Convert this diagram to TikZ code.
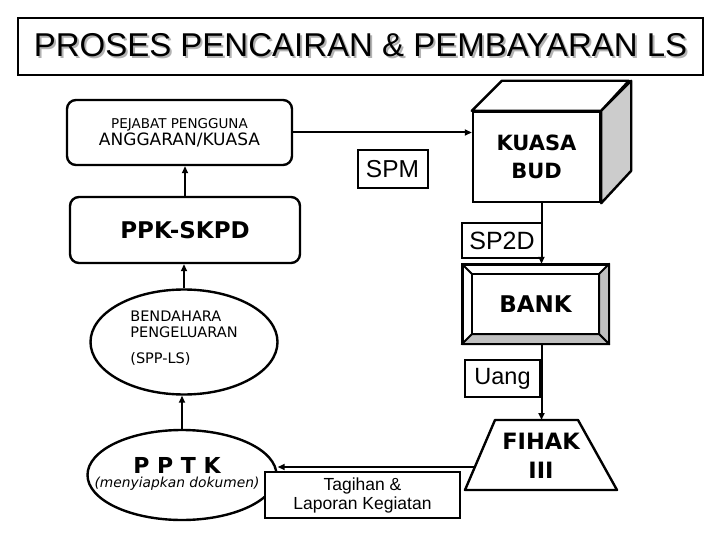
\documentclass[tikz,border=0pt]{standalone}
\usepackage{fontspec}
\setmainfont{Liberation Sans}
\newfontfamily\verdana{DejaVu Sans}
\usetikzlibrary{positioning, arrows.meta, shapes.geometric, calc}

\newcommand{\shadowtext}[1]{\makebox[0pt][l]{\kern2pt\raisebox{-2pt}{\color{gray!60}#1}}#1}

\begin{document}
\begin{tikzpicture}[x=1pt, y=-1pt,
    box/.style={draw, line width=2.4pt, fill=white, inner sep=0pt, align=center},
    roundbox/.style={box, rounded corners=9pt},
    oval/.style={box, ellipse},
    lbl/.style={draw, line width=2pt, fill=white, inner sep=0pt, align=center},
    flow/.style={line width=2pt, -{Triangle[length=7pt, width=6pt]}}]

  \useasboundingbox (0,0) rectangle (720,540);

  % title
  \node[box, minimum width=685pt, minimum height=57pt, font=\fontsize{33}{38}\selectfont] (title)
        at (360.5,46.5) {\shadowtext{PROSES PENCAIRAN \& PEMBAYARAN LS}};

  % left column
  \node[roundbox, minimum width=225pt, minimum height=65pt, font=\verdana] (pejabat) at (179.5,132.5)
        {{\fontsize{13.5}{15}\selectfont PEJABAT PENGGUNA}\\[1pt]{\fontsize{17}{19}\selectfont ANGGARAN/KUASA}};
  \node[roundbox, minimum width=230pt, minimum height=66pt,
        font=\verdana\bfseries\fontsize{23}{26}\selectfont] (ppk) at (185,230) {PPK-SKPD};
  \node[oval, minimum width=187pt, minimum height=105pt] (benda) at (184,342) {};
  \node[align=left, font=\verdana\fontsize{14.5}{16}\selectfont] (bendatext) at (184,338)
        {BENDAHARA\\PENGELUARAN\\[10pt](SPP-LS)};
  \node[oval, minimum width=189pt, minimum height=90pt] (pptk) at (182,475) {};
  \node[align=center, font=\verdana, inner sep=0pt] (pptktext) at (177,474)
        {{\bfseries\fontsize{22}{24}\selectfont P P T K}\\[2pt]{\itshape\fontsize{13.8}{16}\selectfont (menyiapkan dokumen)}};

  % right column
  \node[box, minimum width=127pt, minimum height=90pt,
        font=\verdana\bfseries\fontsize{21}{28}\selectfont] (kuasa) at (536.5,157) {KUASA\\BUD};
  \draw[line width=2.4pt, line join=round, fill=white]
        (kuasa.north west) -- ++(30,-30) -- ++(127,0) -- (kuasa.north east) -- cycle;
  \draw[line width=2.4pt, line join=round, fill=gray!40]
        (kuasa.north east) -- ++(30,-30) -- ++(0,90) -- (kuasa.south east) -- cycle;

  \node[box, minimum width=145pt, minimum height=78pt,
        font=\verdana\bfseries\fontsize{23}{26}\selectfont] (bank) at (535.5,304) {BANK};
  \draw[line width=2pt, line join=round, fill=gray!50]
        (bank.north east) -- ([shift={(-10,10)}]bank.north east)
        -- ([shift={(-10,-10)}]bank.south east) -- (bank.south east) -- cycle;
  \draw[line width=2pt, line join=round, fill=gray!50]
        (bank.south west) -- ([shift={(10,-10)}]bank.south west)
        -- ([shift={(-10,-10)}]bank.south east) -- (bank.south east) -- cycle;
  \draw[line width=2pt] ([shift={(10,10)}]bank.north west) rectangle ([shift={(-10,-10)}]bank.south east);
  \draw[line width=2pt] (bank.north west) -- ++(10,10);
  \draw[line width=2.4pt] (bank.north west) rectangle (bank.south east);

  \draw[line width=2.4pt, line join=round] (495,420) -- (578,420) -- (617,490) -- (465,490) -- cycle;
  \node[font=\verdana\bfseries\fontsize{22.5}{29}\selectfont, align=center] (fihak) at (541,456) {FIHAK\\III};
  \coordinate (fihaktop) at (541.5,420);
  \coordinate (fihakleft) at (475,467);

  % labels
  \node[lbl, minimum width=70pt, minimum height=38pt, font=\fontsize{24.5}{28}\selectfont] (spm) at (392.5,169) {SPM};
  \node[lbl, minimum width=80pt, minimum height=35pt, font=\fontsize{25}{28}\selectfont] (sp2d) at (502,240.5) {SP2D};
  \node[lbl, minimum width=75pt, minimum height=37pt, font=\fontsize{23.5}{27}\selectfont] (uang) at (502.5,378.5) {Uang};
  \node[lbl, minimum width=195pt, minimum height=46pt, font=\fontsize{17.5}{19}\selectfont] (tagihan) at (362.5,495)
        {Tagihan \&\\Laporan Kegiatan};

  % connectors
  \draw[flow] (ppk.north) -- (ppk.north |- pejabat.south);
  \draw[flow] (benda.north) -- (benda.north |- ppk.south);
  \draw[flow] (pptk.north) -- (pptk.north |- benda.south);
  \draw[flow] (pejabat.east) -- (pejabat.east -| kuasa.west);
  \draw[flow] ([xshift=5pt]kuasa.south) -- ([xshift=5pt]kuasa.south |- bank.north);
  \draw[flow] ([xshift=6pt]bank.south) -- (fihaktop);
  \draw[flow] (fihakleft) -- (fihakleft -| pptk.east);
\end{tikzpicture}
\end{document}
